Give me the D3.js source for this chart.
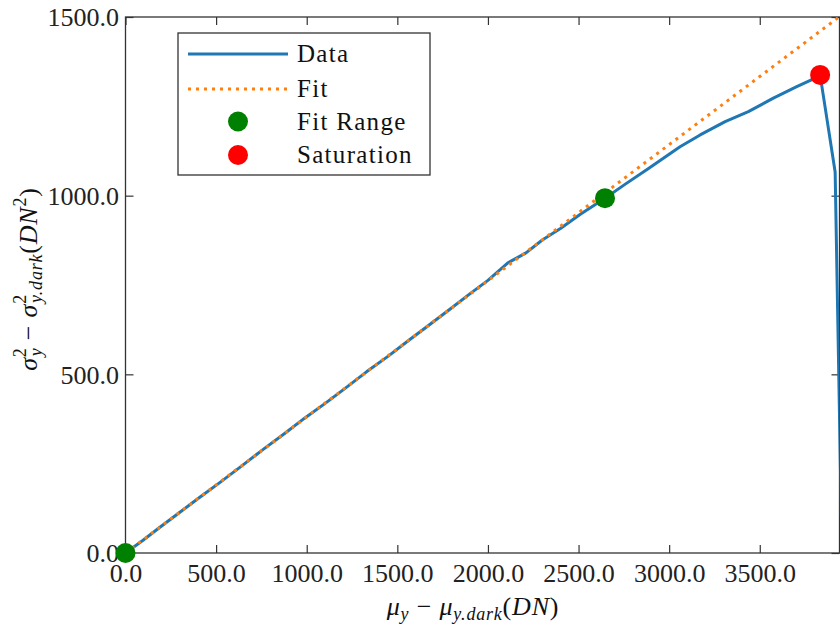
<!DOCTYPE html>
<html>
<head>
<meta charset="utf-8">
<script src="https://cdn.jsdelivr.net/npm/d3@7"></script>
<style>
  html, body { margin: 0; padding: 0; background: #fff; }
  svg { display: block; font-family: "Liberation Serif", "DejaVu Serif", serif; }
</style>
</head>
<body>
<svg id="chart" width="840" height="624"></svg>
<script>
// ---- data ----
const dataX = [0, 95, 190, 300, 410, 520, 640, 760, 880, 990, 1100, 1210, 1330, 1450, 1560, 1670, 1790, 1900, 2000, 2110, 2210, 2300, 2400, 2510, 2646, 2760, 2880, 2960, 3060, 3171, 3309, 3437, 3575, 3704, 3815, 3833, 3916, 3950];
const dataY = [0, 35, 72, 114, 156, 197, 243, 290, 335, 378, 418, 460, 507, 551, 594, 636, 682, 725, 763, 812, 840, 876, 908, 948, 993, 1033, 1074, 1102, 1137, 1170, 1207, 1235, 1273, 1305, 1331, 1338, 1066, 100];
const fitX = [0, 3940];
const fitY = [0, 1501];
const fitRangeX = [0, 2646];
const fitRangeY = [0, 993];
const satX = [3833];
const satY = [1338];
const xTicks = [0, 500, 1000, 1500, 2000, 2500, 3000, 3500];
const yTicks = [0, 500, 1000, 1500];
const legendLabels = ["Data", "Fit", "Fit Range", "Saturation"];

// ---- layout ----
const L = 125.5, R = 839.5, T = 17, B = 553;
const svg = d3.select("#chart");
const x = d3.scaleLinear().domain([0, 3940]).range([L, R]);
const y = d3.scaleLinear().domain([0, 1500]).range([B, T]);
const fmt = d3.format(".1f");
const FS = 26;
const axisColor = "#333";
const serif = "'Liberation Serif', 'DejaVu Serif', serif";

svg.append("defs").append("clipPath").attr("id", "plotclip")
  .append("rect").attr("x", L).attr("y", T).attr("width", R - L).attr("height", B - T);

// axes with inward ticks
function styleAxis(g) {
  g.attr("font-family", null).attr("font-size", null);
  g.select(".domain").remove();
  g.selectAll("line").attr("stroke", axisColor).attr("stroke-width", 1.2);
  g.selectAll("text").attr("fill", "#222").style("font-size", FS + "px")
    .style("font-family", serif);
}
svg.append("g").attr("transform", `translate(0,${B})`)
  .call(d3.axisBottom(x).tickValues(xTicks).tickFormat(fmt).tickSizeInner(-8).tickSizeOuter(0).tickPadding(11))
  .call(styleAxis);
svg.append("g").attr("transform", `translate(0,${T})`)
  .call(d3.axisTop(x).tickValues(xTicks).tickFormat("").tickSizeInner(-8).tickSizeOuter(0))
  .call(styleAxis);
svg.append("g").attr("transform", `translate(${L},0)`)
  .call(d3.axisLeft(y).tickValues(yTicks).tickFormat(fmt).tickSizeInner(-8).tickSizeOuter(0).tickPadding(6.5))
  .call(styleAxis)
  .selectAll("text").attr("dy", "0.34em");
svg.append("g").attr("transform", `translate(${R},0)`)
  .call(d3.axisRight(y).tickValues(yTicks).tickFormat("").tickSizeInner(-8).tickSizeOuter(0))
  .call(styleAxis);

// frame
svg.append("rect").attr("x", L).attr("y", T).attr("width", R - L).attr("height", B - T)
  .attr("fill", "none").attr("stroke", axisColor).attr("stroke-width", 1.3);

// lines
const plot = svg.append("g").attr("clip-path", "url(#plotclip)");
const line = d3.line().x(d => x(d[0])).y(d => y(d[1]));
plot.append("path").datum(d3.zip(dataX, dataY)).attr("d", line)
  .attr("fill", "none").attr("stroke", "#1f77b4").attr("stroke-width", 3).attr("stroke-linejoin", "round");
plot.append("path").datum(d3.zip(fitX, fitY)).attr("d", line)
  .attr("fill", "none").attr("stroke", "#ff7f0e").attr("stroke-width", 3).attr("stroke-dasharray", "3,5");

// markers (not clipped)
svg.append("g").selectAll("circle").data(d3.zip(fitRangeX, fitRangeY)).join("circle")
  .attr("cx", d => x(d[0])).attr("cy", d => y(d[1])).attr("r", 10).attr("fill", "#008000");
svg.append("g").selectAll("circle").data(d3.zip(satX, satY)).join("circle")
  .attr("cx", d => x(d[0])).attr("cy", d => y(d[1])).attr("r", 10).attr("fill", "#ff0000");

// legend
const lg = svg.append("g");
lg.append("rect").attr("x", 178).attr("y", 33).attr("width", 252).attr("height", 142)
  .attr("fill", "#fff").attr("stroke", axisColor).attr("stroke-width", 1.3);
const rowY = [54, 89, 121.5, 155];
lg.append("line").attr("x1", 188).attr("x2", 288).attr("y1", rowY[0]).attr("y2", rowY[0])
  .attr("stroke", "#1f77b4").attr("stroke-width", 3);
lg.append("line").attr("x1", 188).attr("x2", 288).attr("y1", rowY[1]).attr("y2", rowY[1])
  .attr("stroke", "#ff7f0e").attr("stroke-width", 3).attr("stroke-dasharray", "3,5");
lg.append("circle").attr("cx", 238).attr("cy", rowY[2]).attr("r", 10).attr("fill", "#008000");
lg.append("circle").attr("cx", 238).attr("cy", rowY[3]).attr("r", 10).attr("fill", "#ff0000");
lg.selectAll("text.lbl").data(legendLabels).join("text").attr("class", "lbl")
  .attr("x", 297).attr("y", (d, i) => rowY[i] + 8).attr("fill", "#111")
  .style("font-family", serif).style("font-size", "25px").style("letter-spacing", "1.3px")
  .text(d => d);

// math labels
function mathText(g, parts) {
  const t = g.append("text").attr("fill", "#111").style("font-size", FS + "px")
    .style("font-family", serif).style("letter-spacing", "0.8px");
  parts.forEach(p => {
    const ts = t.append("tspan").text(p.t);
    if (p.it) ts.style("font-style", "italic");
    if (p.size) ts.style("font-size", p.size + "px");
    if (p.dy) ts.attr("dy", p.dy);
    if (p.dx) ts.attr("dx", p.dx);
  });
  return t;
}
// x label: μ_y − μ_{y.dark}(DN)
const xl = svg.append("g").attr("transform", "translate(473,615)");
mathText(xl, [
  {t: "μ", it: true}, {t: "y", it: true, size: 18, dy: 5},
  {t: " − ", dy: -5}, {t: "μ", it: true}, {t: "y.dark", it: true, size: 18, dy: 5},
  {t: "(", dy: -5}, {t: "DN", it: true}, {t: ")"}
]).attr("text-anchor", "middle");
// y label: σ_y^2 − σ^2_{y.dark}(DN^2)
const yl = svg.append("g").attr("transform", "translate(37,279) rotate(-90)");
mathText(yl, [
  {t: "σ", it: true}, {t: "2", size: 18, dy: -11}, {t: "y", it: true, size: 18, dy: 16, dx: -9},
  {t: " − ", dy: -5}, {t: "σ", it: true}, {t: "2", size: 18, dy: -11}, {t: "y.dark", it: true, size: 18, dy: 16, dx: -9},
  {t: "(", dy: -5}, {t: "DN", it: true}, {t: "2", size: 18, dy: -11}, {t: ")", dy: 11}
]).attr("text-anchor", "middle");
</script>
</body>
</html>
